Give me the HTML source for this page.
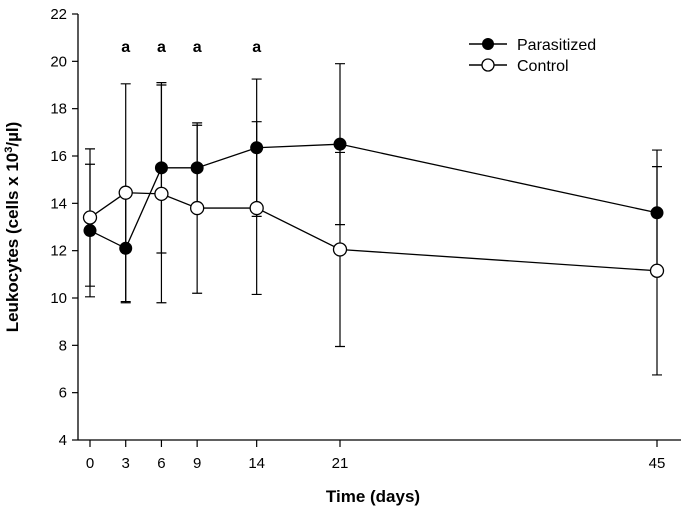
<!DOCTYPE html>
<html><head><meta charset="utf-8"><style>
body{margin:0;background:#fff}
svg{display:block;font-family:"Liberation Sans",Arial,sans-serif}
</style></head><body>
<svg id="chart" width="697" height="516">
<g id="axes"></g>
<g id="marks"></g>
<text x="18" y="227" transform="rotate(-90 18 227)" text-anchor="middle" font-size="17" font-weight="bold">Leukocytes (cells x 10<tspan dy="-6" font-size="11">3</tspan><tspan dy="6">/µl)</tspan></text>
<text x="373" y="502" text-anchor="middle" font-size="17" font-weight="bold">Time (days)</text>
<g>
<g><line x1="469" y1="44" x2="507" y2="44" stroke="#000" stroke-width="1.5"/><circle cx="488" cy="44" r="6" fill="#000"/><text x="517" y="50" font-size="16">Parasitized</text></g>
<g><line x1="469" y1="65" x2="507" y2="65" stroke="#000" stroke-width="1.5"/><circle cx="488" cy="65" r="6" fill="#fff" stroke="#000" stroke-width="1.3"/><text x="517" y="71" font-size="16">Control</text></g>
</g>
</svg>
<script>
const days=[0,3,6,9,14,21,45];
const parasitized=[12.85,12.1,15.5,15.5,16.35,16.5,13.6];
const parasitizedErr=[2.8,2.3,3.6,1.8,2.9,3.4,2.65];
const control=[13.4,14.45,14.4,13.8,13.8,12.05,11.15];
const controlErr=[2.9,4.6,4.6,3.6,3.65,4.1,4.4];
const yTicks=[4,6,8,10,12,14,16,18,20,22];
const sigDays=[3,6,9,14];
const sigLabel="a";

const NS="http://www.w3.org/2000/svg";
function y(v){return 440-(v-4)*(426/18);}
function x(d){return d<=21?90+d*(250/21):340+(d-21)*(317/24);}
function mk(parent,tag,attrs){const e=document.createElementNS(NS,tag);for(const k in attrs)e.setAttribute(k,attrs[k]);parent.appendChild(e);return e;}
const axes=document.getElementById('axes'),marks=document.getElementById('marks');
let e=mk(axes,'line',{x1:78,y1:y(22),x2:78,y2:440,stroke:'#000','stroke-width':1.3});


e=mk(axes,'line',{x1:78,y1:440,x2:681,y2:440,stroke:'#000','stroke-width':1.3});


yTicks.forEach(t=>{
 mk(axes,'line',{x1:72,y1:y(t),x2:78,y2:y(t),stroke:'#000','stroke-width':1.2});
 const tx=mk(axes,'text',{x:67,y:y(t)+5,'text-anchor':'end','font-size':15});
 tx.textContent=t;
 
 
});
days.forEach(d=>{
 mk(axes,'line',{x1:x(d),y1:440,x2:x(d),y2:447,stroke:'#000','stroke-width':1.2});
 const tx=mk(axes,'text',{x:x(d),y:468,'text-anchor':'middle','font-size':15});
 tx.textContent=d;
 
 
});
sigDays.forEach(d=>{
 const tx=mk(axes,'text',{x:x(d),y:52,'text-anchor':'middle','font-size':16,'font-weight':'bold'});
 tx.textContent=sigLabel;
 
 
});
function series(vals,errs,fill,name){
 const g=mk(marks,'g',{});
 
 
 vals.forEach((v,i)=>{
  const cx=x(days[i]);
  const eb=mk(g,'path',{d:`M${cx},${y(v-errs[i])}V${y(v+errs[i])}M${cx-5},${y(v-errs[i])}h10M${cx-5},${y(v+errs[i])}h10`,stroke:'#000','stroke-width':1.2,fill:'none'});
  
  
 });
 const pl=mk(g,'polyline',{points:vals.map((v,i)=>x(days[i])+','+y(v)).join(' '),fill:'none',stroke:'#000','stroke-width':1.3});
 
 
 return g;
}
const gp=series(parasitized,parasitizedErr,'#000','parasitized');
const gc=series(control,controlErr,'#fff','control');
control.forEach((v,i)=>{
 const c=mk(gc,'circle',{cx:x(days[i]),cy:y(v),r:6.5,fill:'#fff',stroke:'#000','stroke-width':1.3});
 
 
});
parasitized.forEach((v,i)=>{
 const c=mk(gp,'circle',{cx:x(days[i]),cy:y(v),r:6.5,fill:'#000'});
 
 
});
</script>
</body></html>
